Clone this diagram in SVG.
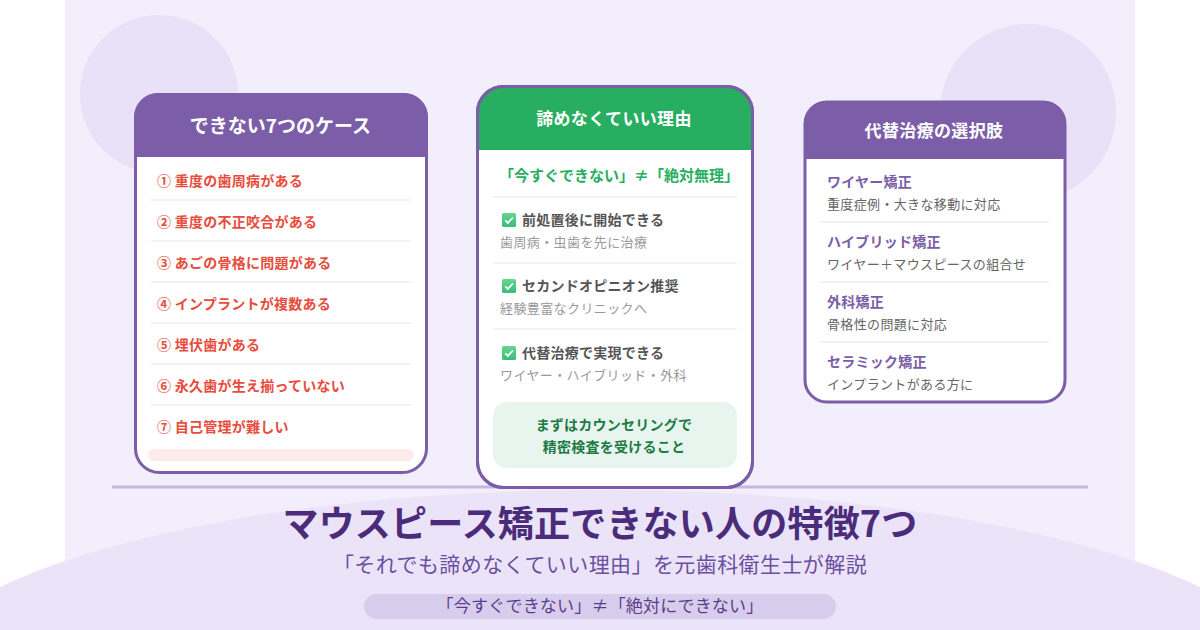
<svg xmlns="http://www.w3.org/2000/svg" width="1200" height="630" viewBox="0 0 1200 630">
<defs><style>
text{font-family:"Noto Sans CJK JP","Noto Sans",sans-serif}
.h{font-weight:700;fill:#fff;text-anchor:middle}
.card{fill:#fff;stroke:#7b5ea7;stroke-width:3}
.edge{fill:none;stroke:#7b5ea7;stroke-width:3}
.sep{stroke:#f3f3f3;stroke-width:2}
.r{font-size:14px;font-weight:700;fill:#e74c3c;letter-spacing:.25px}
.ck{font-size:14px;font-weight:700;fill:#555;letter-spacing:.25px}
.gs{font-size:13px;fill:#999;letter-spacing:.4px}
.pt{font-size:14px;font-weight:700;fill:#7b5ea7;letter-spacing:.25px}
.ps{font-size:13px;fill:#666;letter-spacing:.35px}
.gc{font-size:14px;font-weight:700;fill:#1e7a45;text-anchor:middle;letter-spacing:.25px}
</style>
<linearGradient id="boxfill" x1="0" y1="0" x2="0" y2="1"><stop offset="0" stop-color="#66d68f"/><stop offset="1" stop-color="#3dbb78"/></linearGradient>
<g id="check"><rect width="14" height="14" rx="1.500" fill="url(#boxfill)"/><path d="M3.200 7.300L5.900 9.900L10.900 4.500" fill="none" stroke="#fff" stroke-width="1.800"/></g>
</defs>
<rect width="1200" height="630" fill="#fff"/>
<rect x="65" width="1070" height="630" fill="#f3eefb"/>
<circle cx="159" cy="94" r="79" fill="#e9e1f8"/>
<circle cx="1028" cy="112" r="88" fill="#e9e1f8"/>
<ellipse cx="600" cy="690" rx="700" ry="200" fill="#ebe3f8"/>
<line x1="112" y1="487" x2="1088" y2="487" stroke="#c5b8de" stroke-width="3"/>

<g id="card-left">
<rect class="card" x="135.500" y="94.500" width="291" height="378" rx="24"/>
<path d="M134 157V117a24 24 0 0 1 24-24H404a24 24 0 0 1 24 24V157Z" fill="#7b5ea7"/>
<text class="h" x="280.500" y="133" font-size="19">できない7つのケース</text>
<text class="r" x="157" y="186">① 重度の歯周病がある</text>
<line class="sep" x1="151" y1="200" x2="411" y2="200"/>
<text class="r" x="157" y="227">② 重度の不正咬合がある</text>
<line class="sep" x1="151" y1="241" x2="411" y2="241"/>
<text class="r" x="157" y="268">③ あごの骨格に問題がある</text>
<line class="sep" x1="151" y1="282" x2="411" y2="282"/>
<text class="r" x="157" y="309">④ インプラントが複数ある</text>
<line class="sep" x1="151" y1="323" x2="411" y2="323"/>
<text class="r" x="157" y="350">⑤ 埋伏歯がある</text>
<line class="sep" x1="151" y1="364" x2="411" y2="364"/>
<text class="r" x="157" y="391">⑥ 永久歯が生え揃っていない</text>
<line class="sep" x1="151" y1="405" x2="411" y2="405"/>
<text class="r" x="157" y="432">⑦ 自己管理が難しい</text>
<rect x="148" y="449" width="266" height="12" rx="6" fill="#fdeaea"/>
</g>

<g id="card-center">
<rect class="card" x="477.500" y="86.500" width="275" height="401" rx="26"/>
<path d="M477 150V112a26 26 0 0 1 26-26H727a26 26 0 0 1 26 26V150Z" fill="#27ae60"/>
<rect class="edge" x="477.500" y="86.500" width="275" height="401" rx="26"/>
<text class="h" x="614" y="125" font-size="17" letter-spacing=".35">諦めなくていい理由</text>
<text x="619" y="181" font-size="15" font-weight="700" fill="#27ae60" text-anchor="middle">「今すぐできない」≠「絶対無理」</text>
<line class="sep" x1="493" y1="197" x2="737" y2="197"/>
<use href="#check" x="502" y="213"/>
<text class="ck" x="522" y="225">前処置後に開始できる</text>
<text class="gs" x="500" y="247">歯周病・虫歯を先に治療</text>
<line class="sep" x1="493" y1="263" x2="737" y2="263"/>
<use href="#check" x="502" y="279"/>
<text class="ck" x="522" y="291">セカンドオピニオン推奨</text>
<text class="gs" x="500" y="313">経験豊富なクリニックへ</text>
<line class="sep" x1="493" y1="329" x2="737" y2="329"/>
<use href="#check" x="502" y="346"/>
<text class="ck" x="522" y="358">代替治療で実現できる</text>
<text class="gs" x="500" y="380">ワイヤー・ハイブリッド・外科</text>
<rect x="493" y="402" width="244" height="66" rx="14" fill="#e8f5ee"/>
<text class="gc" x="614" y="430">まずはカウンセリングで</text>
<text class="gc" x="614" y="452">精密検査を受けること</text>
</g>

<g id="card-right">
<rect class="card" x="805" y="102" width="260" height="300" rx="22" stroke-width="2.500"/>
<path d="M804 159V123a22 22 0 0 1 22-22H1044a22 22 0 0 1 22 22V159Z" fill="#7b5ea7"/>
<text class="h" x="934" y="137" font-size="17" letter-spacing=".35">代替治療の選択肢</text>
<text class="pt" x="827" y="187">ワイヤー矯正</text>
<text class="ps" x="827" y="209">重度症例・大きな移動に対応</text>
<line class="sep" x1="820" y1="222" x2="1049" y2="222"/>
<text class="pt" x="827" y="247">ハイブリッド矯正</text>
<text class="ps" x="827" y="269">ワイヤー＋マウスピースの組合せ</text>
<line class="sep" x1="820" y1="282" x2="1049" y2="282"/>
<text class="pt" x="827" y="307">外科矯正</text>
<text class="ps" x="827" y="329">骨格性の問題に対応</text>
<line class="sep" x1="820" y1="342" x2="1049" y2="342"/>
<text class="pt" x="827" y="367">セラミック矯正</text>
<text class="ps" x="827" y="389">インプラントがある方に</text>
</g>

<g id="title">
<text x="600" y="537" font-size="36" font-weight="700" fill="#4a2c7a" text-anchor="middle" letter-spacing=".2">マウスピース矯正できない人の特徴7つ</text>
<text x="600" y="572" font-size="21" fill="#6b4fa0" text-anchor="middle" letter-spacing=".42">「それでも諦めなくていい理由」を元歯科衛生士が解説</text>
<rect x="364" y="594" width="472" height="25" rx="12.500" fill="#d8cdec"/>
<text x="600" y="612" font-size="17" fill="#5a3d8a" text-anchor="middle" letter-spacing=".2">「今すぐできない」≠「絶対にできない」</text>
</g>
<g id="connectors"/>
</svg>
